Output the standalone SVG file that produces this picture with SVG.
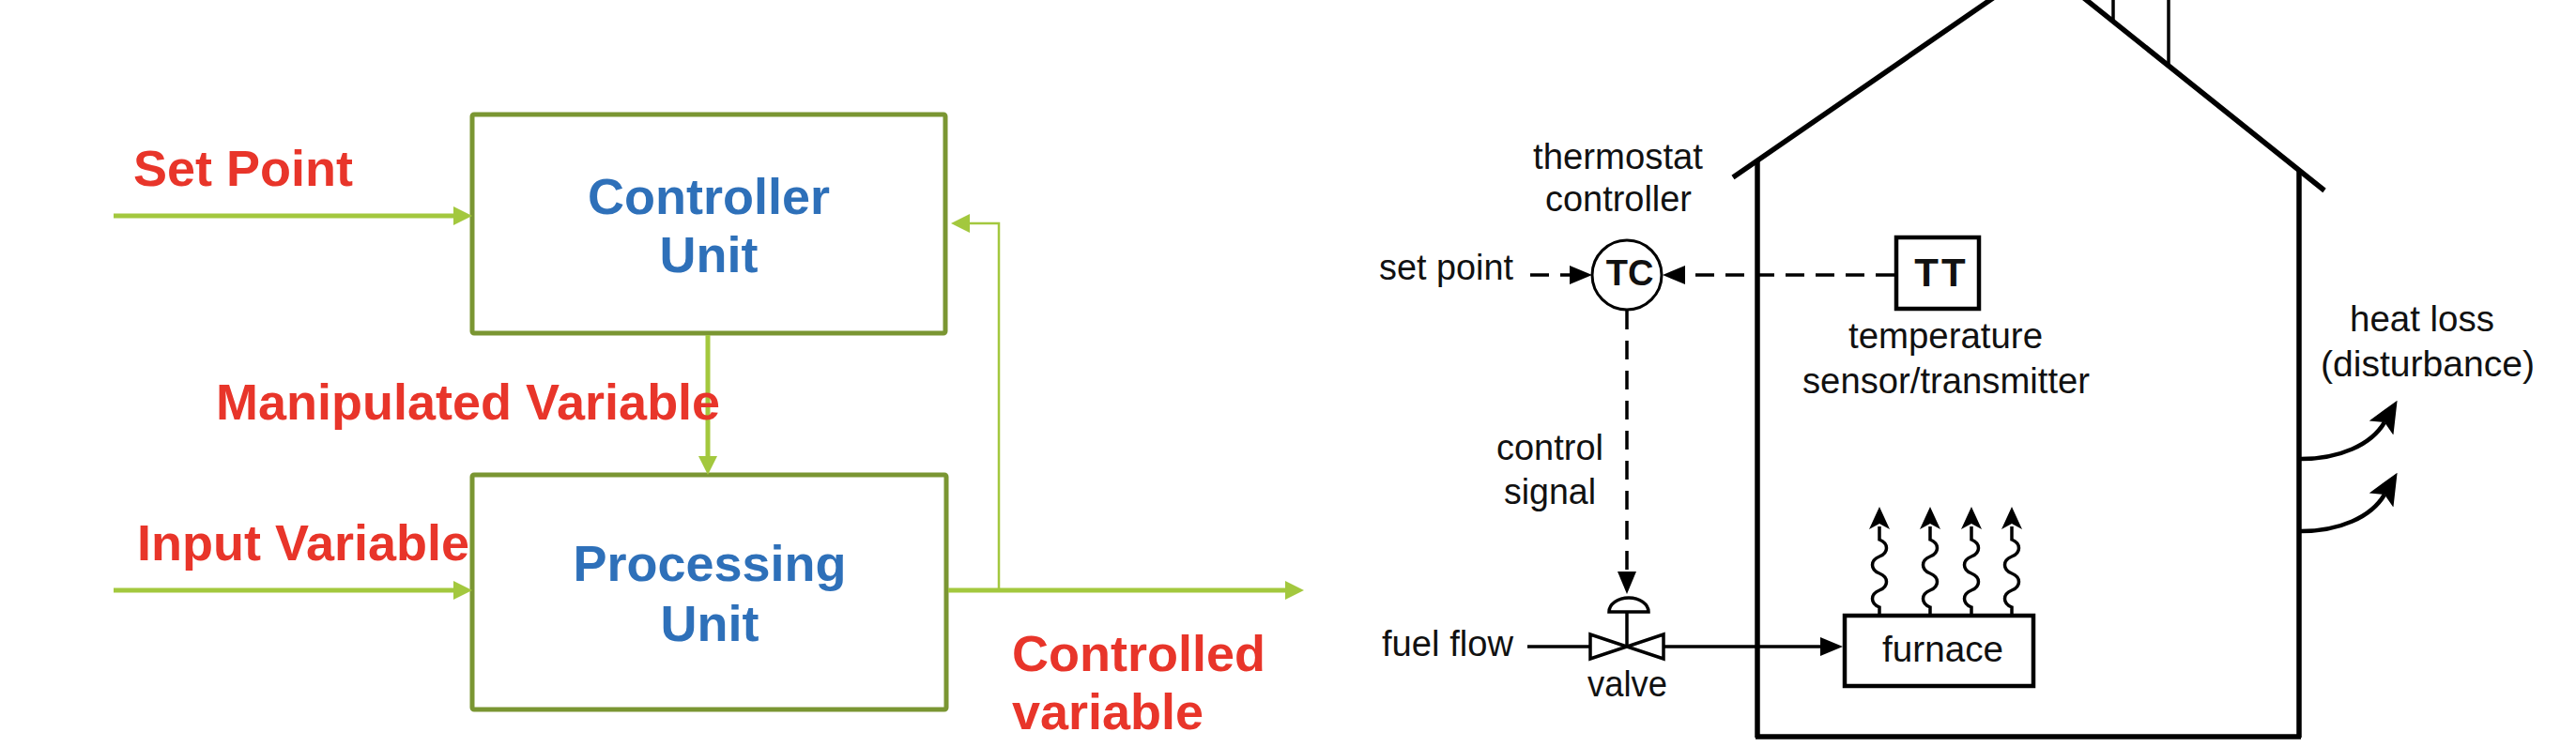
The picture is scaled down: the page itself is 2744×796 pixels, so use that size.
<svg xmlns="http://www.w3.org/2000/svg" width="2744" height="796" viewBox="0 0 2744 796">
<style>
.lbl{font-family:"Liberation Sans",Arial,sans-serif;font-weight:bold;font-size:54px;fill:#e8352a}
.unit{font-family:"Liberation Sans",Arial,sans-serif;font-weight:bold;font-size:54px;fill:#2e70b9;text-anchor:middle}
.box{fill:#fff;stroke:#7a9632;stroke-width:5}
.lime{fill:none;stroke:#a3c83e;stroke-width:5}
.limeThin{fill:none;stroke:#a3c83e;stroke-width:2.5}
.t{font-family:"Liberation Sans",Arial,sans-serif;font-size:38px;fill:#111}
.tb{font-family:"Liberation Sans",Arial,sans-serif;font-weight:bold;fill:#111;text-anchor:middle}
.ln{fill:none;stroke:#000;stroke-width:3.5}
.shape{fill:#fff;stroke:#000;stroke-width:3.5}
.dash{fill:none;stroke:#000;stroke-width:3.5;stroke-dasharray:20 12}
.wave{fill:none;stroke:#000;stroke-width:3.5}
.loss{fill:none;stroke:#000;stroke-width:4.5}
.house{fill:none;stroke:#000;stroke-width:5.5}
</style>
<defs>
<marker id="limeHead" viewBox="0 0 20 20" refX="0" refY="10" markerWidth="20" markerHeight="20" markerUnits="userSpaceOnUse" orient="auto"><path d="M0,0 L20,10 L0,20 z" fill="#a3c83e"/></marker>
<marker id="blkHead" viewBox="0 0 24 20" refX="0" refY="10" markerWidth="24" markerHeight="20" markerUnits="userSpaceOnUse" orient="auto"><path d="M0,0 L24,10 L0,20 z" fill="#000"/></marker>
<marker id="waveHead" viewBox="0 0 24 22" refX="3" refY="11" markerWidth="24" markerHeight="22" markerUnits="userSpaceOnUse" orient="auto"><path d="M0,0 L24,11 L0,22 L6,11 z" fill="#000"/></marker>
<marker id="lossHead" viewBox="0 0 34 30" refX="7" refY="15" markerWidth="34" markerHeight="30" markerUnits="userSpaceOnUse" orient="auto"><path d="M0,0 L34,15 L0,30 L7,15 z" fill="#000"/></marker>
</defs>
<rect width="2744" height="796" fill="#fff"/>

<!-- Left block diagram -->
<g id="controller-unit">
<rect class="box" x="503" y="122" width="504" height="233" rx="2"/>
<text class="unit" x="755" y="228">Controller</text>
<text class="unit" x="755" y="290">Unit</text>
</g>
<g id="processing-unit">
<rect class="box" x="503" y="506" width="505" height="250" rx="2"/>
<text class="unit" x="756" y="619">Processing</text>
<text class="unit" x="756" y="683">Unit</text>
</g>
<g id="connectors-left">
<path class="lime" d="M121,230 H483" marker-end="url(#limeHead)"/>
<path class="lime" d="M121,629 H483" marker-end="url(#limeHead)"/>
<path class="lime" d="M754,357 V486" marker-end="url(#limeHead)"/>
<path class="lime" d="M1010,629 H1369" marker-end="url(#limeHead)"/>
<path class="limeThin" d="M1064,629 V238 H1033" marker-end="url(#limeHead)"/>
</g>
<g id="labels-left">
<text class="lbl" x="142" y="198">Set Point</text>
<text class="lbl" x="230" y="447">Manipulated Variable</text>
<text class="lbl" x="146" y="597">Input Variable</text>
<text class="lbl" x="1078" y="715">Controlled</text>
<text class="lbl" x="1078" y="777">variable</text>
</g>

<!-- Right: house scene -->
<g id="house">
<path class="house" d="M1846,189 L2175,-38 L2476,203" stroke-width="6.5"/>
<path class="house" d="M1872,171 V786"/>
<path class="house" d="M2449,181 V786"/>
<path class="house" d="M1870,785 H2451" stroke-width="6.5"/>
<path class="ln" d="M2251,0 V23" stroke-width="3"/>
<path class="ln" d="M2310,0 V70" stroke-width="3"/>
</g>

<g id="connectors-right">
<path class="dash" d="M1630,293 H1672" marker-end="url(#blkHead)"/>
<path class="dash" d="M2018,293 H1795" marker-end="url(#blkHead)"/>
<path class="dash" d="M1733,331 V609" marker-end="url(#blkHead)"/>
<path class="ln" d="M1627,689 H1694"/>
<path class="ln" d="M1772,689 H1939" marker-end="url(#blkHead)"/>
<path class="loss" d="M2451,489 C2492,489 2526,474 2540,450" marker-end="url(#lossHead)"/>
<path class="loss" d="M2451,566 C2492,566 2526,551 2540,527" marker-end="url(#lossHead)"/>
</g>

<g id="thermostat-controller">
<circle cx="1733" cy="293" r="37" fill="#fff" stroke="#000" stroke-width="3"/>
<text class="tb" x="1736" y="304" font-size="38">TC</text>
<text class="t" x="1633" y="180" textLength="181" lengthAdjust="spacingAndGlyphs">thermostat</text>
<text class="t" x="1646" y="225" textLength="156" lengthAdjust="spacingAndGlyphs">controller</text>
<text class="t" x="1469" y="298" textLength="143" lengthAdjust="spacingAndGlyphs">set point</text>
<text class="t" x="1594" y="490" textLength="114" lengthAdjust="spacingAndGlyphs">control</text>
<text class="t" x="1602" y="537" textLength="98" lengthAdjust="spacingAndGlyphs">signal</text>
</g>

<g id="temperature-transmitter">
<rect x="2020" y="253" width="88" height="76" fill="#fff" stroke="#000" stroke-width="4.5"/>
<text class="tb" x="2068" y="305" font-size="42" letter-spacing="3">TT</text>
<text class="t" x="1969" y="371" textLength="207" lengthAdjust="spacingAndGlyphs">temperature</text>
<text class="t" x="1920" y="419" textLength="306" lengthAdjust="spacingAndGlyphs">sensor/transmitter</text>
</g>

<g id="valve">
<path class="shape" d="M1714,652 A21,15 0 0 1 1756,652 Z"/>
<path class="ln" d="M1733,652 V689"/>
<path class="shape" d="M1694,676 L1694,702 L1733,689 Z"/>
<path class="shape" d="M1772,676 L1772,702 L1733,689 Z"/>
<text class="t" x="1472" y="699" textLength="140" lengthAdjust="spacingAndGlyphs">fuel flow</text>
<text class="t" x="1691" y="742" textLength="85" lengthAdjust="spacingAndGlyphs">valve</text>
</g>

<g id="furnace">
<rect x="1965" y="656" width="201" height="75" fill="#fff" stroke="#000" stroke-width="4.5"/>
<text class="t" x="2005" y="705" textLength="129" lengthAdjust="spacingAndGlyphs">furnace</text>
<path class="wave" d="M2002,655 v-8 c-10,-4 -10,-14 0,-18 c10,-4 10,-14 0,-18 c-10,-4 -10,-14 0,-18 c10,-4 10,-14 0,-18 v-14" marker-end="url(#waveHead)"/>
<path class="wave" d="M2056,655 v-8 c-10,-4 -10,-14 0,-18 c10,-4 10,-14 0,-18 c-10,-4 -10,-14 0,-18 c10,-4 10,-14 0,-18 v-14" marker-end="url(#waveHead)"/>
<path class="wave" d="M2100,655 v-8 c-10,-4 -10,-14 0,-18 c10,-4 10,-14 0,-18 c-10,-4 -10,-14 0,-18 c10,-4 10,-14 0,-18 v-14" marker-end="url(#waveHead)"/>
<path class="wave" d="M2143,655 v-8 c-10,-4 -10,-14 0,-18 c10,-4 10,-14 0,-18 c-10,-4 -10,-14 0,-18 c10,-4 10,-14 0,-18 v-14" marker-end="url(#waveHead)"/>
</g>

<g id="heat-loss">
<text class="t" x="2503" y="353" textLength="154" lengthAdjust="spacingAndGlyphs">heat loss</text>
<text class="t" x="2472" y="401" textLength="228" lengthAdjust="spacingAndGlyphs">(disturbance)</text>
</g>
</svg>
